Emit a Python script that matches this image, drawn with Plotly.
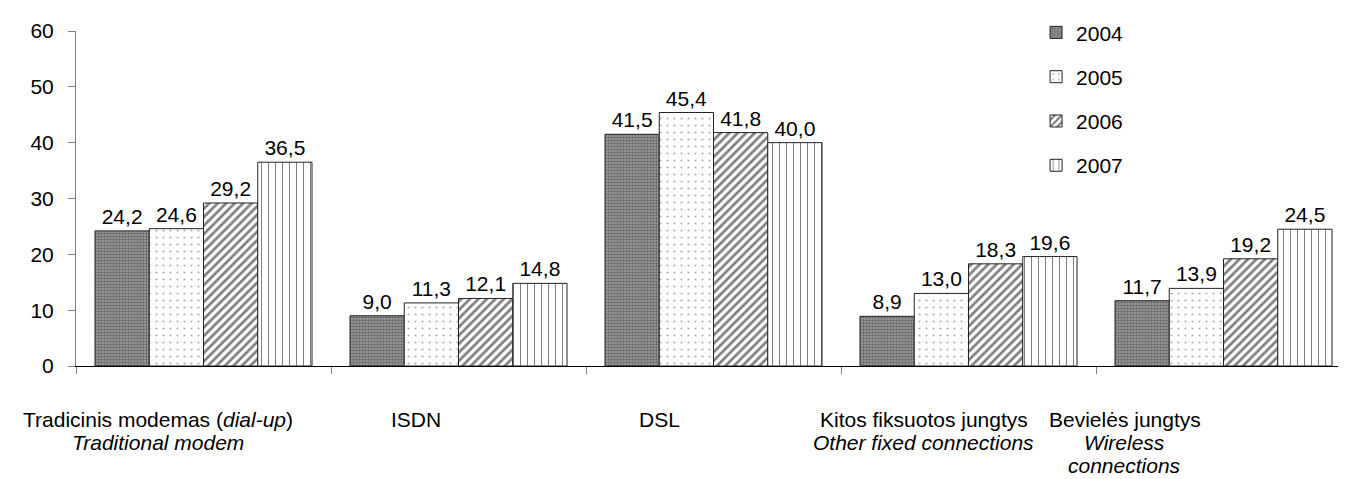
import plotly.graph_objects as go

categories = ["Tradicinis modemas", "ISDN", "DSL", "Kitos fiksuotos jungtys", "Bevielės jungtys"]
category_labels = [
    ["Tradicinis modemas (<i>dial-up</i>)", "<i>Traditional modem</i>"],
    ["ISDN"],
    ["DSL"],
    ["Kitos fiksuotos jungtys", "<i>Other fixed connections</i>"],
    ["Bevielės jungtys", "<i>Wireless</i>", "<i>connections</i>"],
]
years = ["2004", "2005", "2006", "2007"]
v2004 = [24.2, 9.0, 41.5, 8.9, 11.7]
v2005 = [24.6, 11.3, 45.4, 13.0, 13.9]
v2006 = [29.2, 12.1, 41.8, 18.3, 19.2]
v2007 = [36.5, 14.8, 40.0, 19.6, 24.5]
series = [v2004, v2005, v2006, v2007]

FONT = "Liberation Sans, Arial"
FS = 21

patterns = [
    dict(shape=".", fgcolor="#303030", bgcolor="#a0a0a0", size=3, solidity=0.5),
    dict(shape=".", fgcolor="#606060", bgcolor="white", size=7, solidity=0.08),
    dict(shape="/", fgcolor="black", bgcolor="white", size=6, solidity=0.45),
    dict(shape="|", fgcolor="black", bgcolor="white", size=7, solidity=0.15),
]

fig = go.Figure()
for i, (yr, vals) in enumerate(zip(years, series)):
    fig.add_trace(go.Bar(
        name=yr,
        x=categories,
        y=vals,
        text=[f"{v:.1f}".replace(".", ",") for v in vals],
        textposition="outside",
        textfont=dict(family=FONT, size=FS, color="black"),
        cliponaxis=False,
        marker=dict(color="white", pattern=patterns[i], line=dict(color="#222222", width=1)),
        legendgroup=yr,
    ))

# category labels (placed under each category, offset as in the original)
label_xshift = [-46, -43, -54, -45, -99]
line_yshift = [-53, -76, -99]
for cat, lines, xs in zip(categories, category_labels, label_xshift):
    for j, ln in enumerate(lines):
        fig.add_annotation(
            x=cat, xref="x", y=0, yref="paper",
            text=ln, showarrow=False,
            xanchor="center", yanchor="middle",
            xshift=xs, yshift=line_yshift[j],
            font=dict(family=FONT, size=FS, color="black"),
        )

fig.update_layout(
    width=1346, height=479,
    barmode="group",
    bargap=0.149,
    bargroupgap=0,
    plot_bgcolor="white",
    paper_bgcolor="white",
    margin=dict(l=68, r=3, t=23, b=121),
    font=dict(family=FONT, size=FS, color="black"),
    showlegend=True,
    legend=dict(
        x=0.753, y=1.056, xanchor="left", yanchor="top",
        bgcolor="rgba(0,0,0,0)",
        font=dict(family=FONT, size=FS),
        tracegroupgap=14,
        itemwidth=30,
    ),
    xaxis=dict(
        range=[-0.5, len(categories) - 0.5], autorange=False,
        showline=True, linecolor="black", linewidth=1,
        ticks="outside", tickson="boundaries", ticklen=7, tickcolor="#808080",
        showgrid=False, showticklabels=False,
    ),
    yaxis=dict(
        range=[0, 60], dtick=10,
        showline=True, linecolor="#808080", linewidth=1,
        ticks="outside", ticklen=7, tickcolor="#808080",
        showgrid=False, zeroline=False, ticklabelstandoff=10,
    ),
)

fig.write_html("out.html")
